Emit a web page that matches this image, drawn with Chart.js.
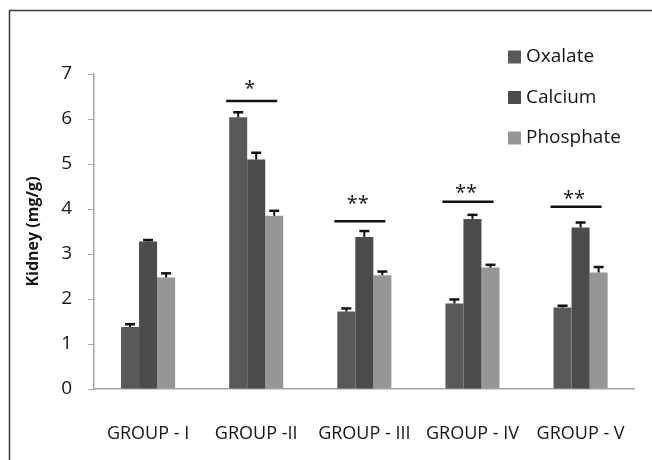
<!DOCTYPE html>
<html>
<head>
<meta charset="utf-8">
<script src="https://cdn.jsdelivr.net/npm/chart.js@4/dist/chart.umd.min.js"></script>
<style>
	body { margin: 0; background: #fff; }
	#wrap { width: 652px; height: 460px; }
</style>
</head>
<body>
<div id="wrap"><canvas id="kidneyChart"></canvas></div>
<script>
// data
const groups = ["GROUP - I", "GROUP -II", "GROUP - III", "GROUP - IV", "GROUP - V"];
const oxalate = [1.38, 6.04, 1.72, 1.90, 1.81];
const calcium = [3.28, 5.10, 3.38, 3.78, 3.59];
const phosphate = [2.48, 3.85, 2.53, 2.70, 2.59];
const oxalateErr = [0.06, 0.11, 0.07, 0.09, 0.04];
const calciumErr = [0.03, 0.15, 0.13, 0.09, 0.11];
const phosphateErr = [0.09, 0.11, 0.08, 0.06, 0.12];
// significance bars above each group
const sigMarks = ["", "*", "**", "**", "**"];
const sigLineLevels = [null, 6.40, 3.73, 4.16, 4.05];
const sigStarLevels = [null, 6.66, 4.10, 4.36, 4.22];

const FONT = "'Open Sans', 'DejaVu Sans', sans-serif";
const TEXT = "#151515";

// outer frame (only top and left edge are inside the picture)
const framePlugin = {
	id: "frame",
	beforeDraw(chart) {
		const ctx = chart.ctx;
		ctx.save();
		ctx.strokeStyle = "#3a3a3a";
		ctx.lineWidth = 1.5;
		ctx.beginPath();
		ctx.moveTo(9.5, 460);
		ctx.lineTo(9.5, 10.5);
		ctx.lineTo(652, 10.5);
		ctx.stroke();
		ctx.restore();
	}
};

// upper error bars + significance lines
const errorBarPlugin = {
	id: "errorBars",
	afterDatasetsDraw(chart) {
		const ctx = chart.ctx;
		const y = chart.scales.y;
		ctx.save();
		ctx.strokeStyle = "#111";
		chart.data.datasets.forEach((ds, d) => {
			const meta = chart.getDatasetMeta(d);
			meta.data.forEach((bar, i) => {
				const top = y.getPixelForValue(ds.data[i] + ds.errors[i]);
				ctx.lineWidth = 2;
				ctx.beginPath();
				ctx.moveTo(bar.x, bar.y);
				ctx.lineTo(bar.x, top);
				ctx.stroke();
				ctx.lineWidth = 2.5;
				ctx.beginPath();
				ctx.moveTo(bar.x - 5, top);
				ctx.lineTo(bar.x + 5, top);
				ctx.stroke();
			});
		});

		const first = chart.getDatasetMeta(0).data;
		const last = chart.getDatasetMeta(chart.data.datasets.length - 1).data;
		ctx.fillStyle = TEXT;
		ctx.font = "20px " + FONT;
		ctx.textAlign = "center";
		ctx.textBaseline = "middle";
		sigMarks.forEach((mark, i) => {
			if (!mark) return;
			const left = first[i].x - first[i].width / 2 - 3;
			const right = last[i].x + last[i].width / 2 - 6;
			const ly = y.getPixelForValue(sigLineLevels[i]);
			ctx.lineWidth = 2.5;
			ctx.beginPath();
			ctx.moveTo(left, ly);
			ctx.lineTo(right, ly);
			ctx.stroke();
			ctx.fillText(mark, (left + right) / 2 - 2, y.getPixelForValue(sigStarLevels[i]));
		});
		ctx.restore();
	}
};

// legend sits inside the plot, top right
const legendPlugin = {
	id: "insideLegend",
	afterDraw(chart) {
		const ctx = chart.ctx;
		ctx.save();
		ctx.font = "19px " + FONT;
		ctx.textBaseline = "middle";
		ctx.textAlign = "left";
		chart.data.datasets.forEach((ds, i) => {
			const cy = 57 + i * 40.5;
			ctx.fillStyle = ds.backgroundColor;
			ctx.fillRect(508, cy - 6.5, 13, 13);
			ctx.fillStyle = TEXT;
			ctx.fillText(ds.label, 526, cy);
		});
		ctx.restore();
	}
};

const ctx = document.getElementById("kidneyChart").getContext("2d");
new Chart(ctx, {
	type: "bar",
	data: {
		labels: groups,
		datasets: [
			{ label: "Oxalate", data: oxalate, errors: oxalateErr, backgroundColor: "#595959" },
			{ label: "Calcium", data: calcium, errors: calciumErr, backgroundColor: "#4b4b4b" },
			{ label: "Phosphate", data: phosphate, errors: phosphateErr, backgroundColor: "#969696" }
		]
	},
	options: {
		responsive: true,
		maintainAspectRatio: false,
		animation: false,
		datasets: {
			bar: { categoryPercentage: 0.5, barPercentage: 1.0 }
		},
		layout: {
			padding: { left: 20, top: 74, right: 14, bottom: 0 }
		},
		plugins: {
			legend: { display: false },
			tooltip: { enabled: false }
		},
		scales: {
			x: {
				grid: { display: false },
				border: { color: "#a6a6a6", width: 1.5 },
				ticks: {
					color: TEXT,
					padding: 26,
					maxRotation: 0,
					autoSkip: false,
					font: { family: FONT, size: 18 }
				},
				afterFit: function (scale) { scale.height = 71; }
			},
			y: {
				min: 0,
				max: 7,
				grid: { drawOnChartArea: false, tickLength: 6, color: "#a6a6a6" },
				border: { color: "#a6a6a6", width: 1.5 },
				ticks: {
					stepSize: 1,
					color: TEXT,
					padding: 16,
					font: { family: FONT, size: 19 }
				},
				title: {
					display: true,
					text: "Kidney (mg/g)",
					color: TEXT,
					font: { family: FONT, size: 16, weight: "bold" }
				},
				afterFit: function (scale) { scale.width = 74; }
			}
		}
	},
	plugins: [framePlugin, errorBarPlugin, legendPlugin]
});
</script>
</body>
</html>
